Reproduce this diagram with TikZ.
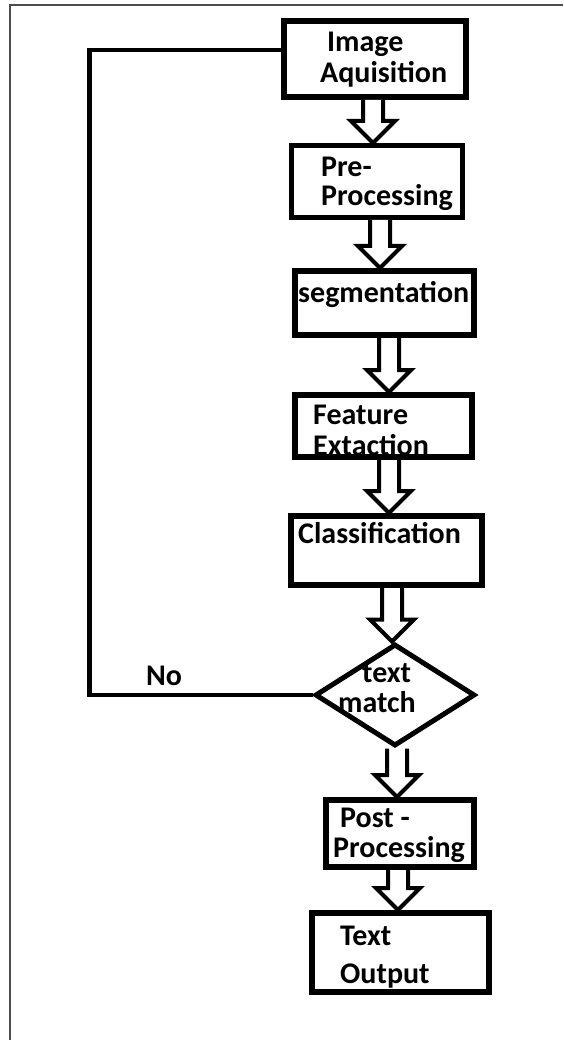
\documentclass[tikz,border=0pt]{standalone}
\usepackage{fontspec}
\setmainfont{Carlito}
\usetikzlibrary{shapes.geometric}
\tikzset{
	stage/.style={draw,line width=6pt,inner sep=0pt},
	txt/.style={font=\fontsize{30}{31}\selectfont\bfseries,align=left,inner sep=0pt,anchor=base west},
	hollow/.style={draw,line width=4pt,line join=miter,fill=white},
	loopback/.style={draw,line width=4.5pt,line join=miter},
}
% hollow block arrow: x position, from node, to node
\newcommand{\flowarrow}[3]{%
	\path (#1,0) coordinate (ax);
	\coordinate (as) at (ax |- #2.south);
	\coordinate (ae) at (ax |- #3.north);
	\draw[hollow] ([xshift=-10pt]as) -- ([xshift=-10pt,yshift=22pt]ae) -- ([xshift=-22pt,yshift=22pt]ae) -- (ae) -- ([xshift=22pt,yshift=22pt]ae) -- ([xshift=10pt,yshift=22pt]ae) -- ([xshift=10pt]as);
}
\begin{document}
\begin{tikzpicture}[x=1pt,y=-1pt]
	\useasboundingbox (0,0) rectangle (563,1040);
	\draw[gray!60!black,line width=1.5pt] (10,1040)--(10,5)--(563,5);
	\node[stage,minimum width=182pt,minimum height=76pt] (img) at (375,59) {};
	\node[txt] (img-t) at (320,83) {\hspace{7pt}Image\\Aquisition};
	\node[stage,line width=5pt,minimum width=171pt,minimum height=72pt] (pre) at (377,181.5) {};
	\node[txt] (pre-t) at (321,206) {Pre-\\[-2pt]Processing};
	\node[stage,minimum width=179pt,minimum height=64pt] (seg) at (384.5,303) {};
	\node[txt] (seg-t) at (298,302) {segmentation};
	\node[stage,minimum width=177pt,minimum height=62pt] (feat) at (383.5,426) {};
	\node[txt] (feat-t) at (313,455) {Feature\\Extaction};
	\node[stage,minimum width=191pt,minimum height=69pt] (class) at (386.5,550.5) {};
	\node[txt] (class-t) at (298,543) {Classification};
	\node[draw,diamond,line width=5pt,inner sep=0pt,minimum width=160pt,minimum height=102pt] (chk) at (395,695) {};
	\node[txt] (chk-t) at (338,712) {\hspace{24pt}text\\[-1pt]match};
	\node[stage,minimum width=148pt,minimum height=67pt] (post) at (400,833.5) {};
	\node[txt] (post-t) at (333,857) {\hspace{7pt}Post -\\[-1pt]Processing};
	\node[stage,minimum width=177pt,minimum height=79pt] (out) at (400.5,952.5) {};
	\node[txt] (out-t) at (340,983) {Text\\[7pt]Output};
	\node[txt] (no) at (146,685) {No};
	\flowarrow{373}{img}{pre}
	\flowarrow{380}{pre}{seg}
	\flowarrow{389}{seg}{feat}
	\flowarrow{389}{feat}{class}
	\flowarrow{392}{class}{chk}
	\flowarrow{397}{chk}{post}
	\flowarrow{398}{post}{out}
	\draw[loopback] (chk.west)--++(-223,0)|-([yshift=9pt]img.west);
\end{tikzpicture}
\end{document}
